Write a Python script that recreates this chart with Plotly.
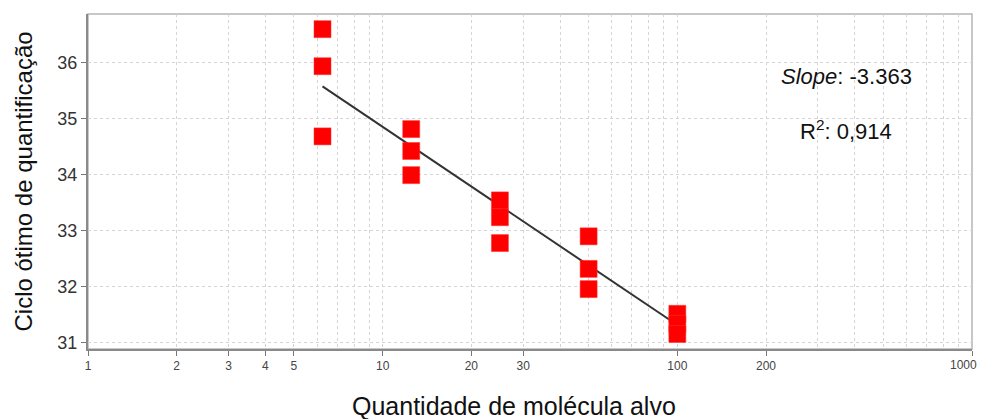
import plotly.graph_objects as go

# Data
quantity = [6.25, 6.25, 6.25, 12.5, 12.5, 12.5, 25, 25, 25, 50, 50, 50, 100, 100, 100]
cq = [36.59, 35.93, 34.68, 34.81, 34.42, 33.99, 33.54, 33.24, 32.78, 32.90, 32.32, 31.96, 31.52, 31.34, 31.16]
fit_x = [6.25, 100]
fit_y = [35.57, 31.32]
x_ticks = [1, 2, 3, 4, 5, 10, 20, 30, 100, 200, 1000]
x_tick_text = ["1", "2", "3", "4", "5", "10", "20", "30", "100", "200", "1000"]
x_minor = [m * d for d in (1, 10, 100) for m in range(2, 10) if m * d not in x_ticks]
y_ticks = [31, 32, 33, 34, 35, 36]
slope_text = "<i>Slope</i>: -3.363"
r2_text = "R<sup>2</sup>: 0,914"
x_title = "Quantidade de molécula alvo"
y_title = "Ciclo ótimo de quantificação"

FONT = "Liberation Sans, Arial, sans-serif"
GRID = "#d4d4d4"

# the last tick label sits at the very edge of the page: draw it as an
# annotation nudged inward so it is not clipped
axis_text = x_tick_text[:-1] + [""]
edge_label = x_tick_text[-1]

fig = go.Figure()
fig.add_trace(go.Scatter(
    x=fit_x, y=fit_y, mode="lines",
    line=dict(color="#333333", width=2), showlegend=False, hoverinfo="skip"))
fig.add_trace(go.Scatter(
    x=quantity, y=cq, mode="markers",
    marker=dict(symbol="square", size=17, color="#ff0000",
                line=dict(color="#ff3030", width=0.5)),
    showlegend=False))

fig.add_annotation(x=0.858, y=0.812, xref="paper", yref="paper", text=slope_text,
                   xanchor="center", yanchor="middle",
                   showarrow=False, font=dict(family=FONT, size=22, color="#111111"))
fig.add_annotation(x=0.858, y=0.654, xref="paper", yref="paper", text=r2_text,
                   xanchor="center", yanchor="middle",
                   showarrow=False, font=dict(family=FONT, size=22, color="#111111"))
fig.add_annotation(x=0.482, y=-0.170, xref="paper", yref="paper", text=x_title,
                   xanchor="center", yanchor="middle",
                   showarrow=False, font=dict(family=FONT, size=25, color="#111111"))
fig.add_annotation(x=-0.0735, y=0.50, xref="paper", yref="paper", text=y_title,
                   xanchor="center", yanchor="middle",
                   textangle=-90, showarrow=False,
                   font=dict(family=FONT, size=24, color="#111111"))
fig.add_annotation(x=1.0, y=0, xref="paper", yref="paper", text=edge_label,
                   xanchor="right", yanchor="top", xshift=6, yshift=-8,
                   showarrow=False, borderpad=0,
                   font=dict(family=FONT, size=12, color="#444444"))

fig.update_layout(
    width=979, height=411,
    margin=dict(l=80, r=15, t=6, b=70),
    paper_bgcolor="white", plot_bgcolor="white",
    font=dict(family=FONT),
    xaxis=dict(
        type="log", range=[0, 3], automargin=False,
        tickvals=x_ticks, ticktext=axis_text,
        tickfont=dict(size=12, color="#444444"),
        ticks="outside", ticklen=5, tickcolor="#777777",
        showgrid=True, gridcolor=GRID, griddash="3px,3px", gridwidth=1,
        minor=dict(tickvals=x_minor, showgrid=True, gridcolor=GRID,
                   griddash="3px,3px", ticks=""),
        showline=True, linecolor="#8a8a8a", linewidth=2, mirror=False,
        zeroline=False,
    ),
    yaxis=dict(
        range=[30.893, 36.86], automargin=False,
        tickvals=y_ticks,
        tickfont=dict(size=18, color="#333333"),
        ticks="outside", ticklen=5, tickcolor="#777777",
        showgrid=True, gridcolor=GRID, griddash="3px,3px", gridwidth=1,
        showline=True, linecolor="#8a8a8a", linewidth=2,
        zeroline=False,
    ),
    shapes=[dict(type="rect", xref="paper", yref="paper", x0=0, y0=0, x1=1, y1=1,
                 line=dict(color="#b5b5b5", width=1.5), layer="below")],
)

fig.write_html(
    "out.html",
    post_script="document.documentElement.style.overflow='hidden';"
                "document.body.style.overflow='hidden';",
)
